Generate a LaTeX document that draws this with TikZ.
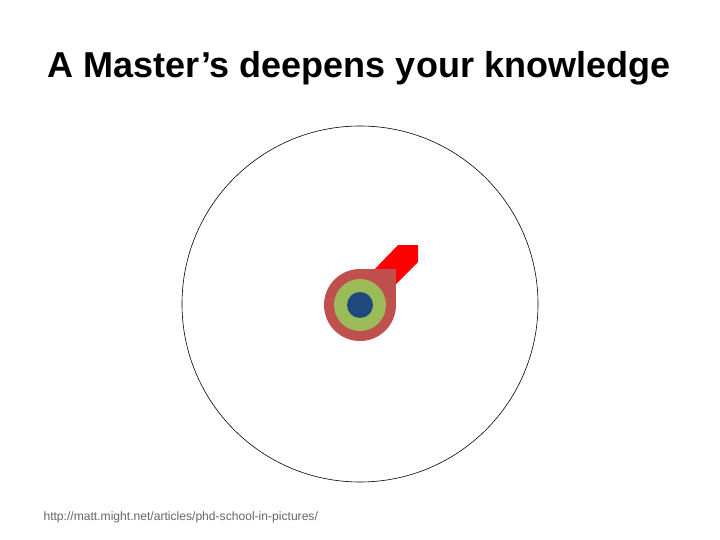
\documentclass[tikz,border=0pt]{standalone}
\usepackage{fontspec}
\setmainfont{Liberation Sans}
\definecolor{dred}{HTML}{C0504D}
\definecolor{lgreen}{HTML}{9BBB59}
\definecolor{dblue}{HTML}{1F497D}
\begin{document}
\begin{tikzpicture}[x=1pt,y=-1pt]
\useasboundingbox[fill=white] (0,0) rectangle (720,540);
\node (title) at (359,68) {\fontsize{36}{40}\selectfont\bfseries A Master’s deepens your knowledge};
\node[anchor=west,text=gray!80!black] (src) at (40,517) {\fontsize{12.1}{14}\selectfont http://matt.might.net/articles/phd-school-in-pictures/};
\draw[black,line width=0.6pt] (360,304) circle[radius=178];
\fill[red] (372,272) -- (398,245) -- (418,245) -- (418,262) -- (390,290) -- cycle;
\fill[dred] (360,305) circle[radius=36];
\fill[dred] (360,269) rectangle (396,305);
\fill[lgreen] (360,305) circle[radius=26];
\fill[dblue] (360,305) circle[radius=13];
\end{tikzpicture}
\end{document}
